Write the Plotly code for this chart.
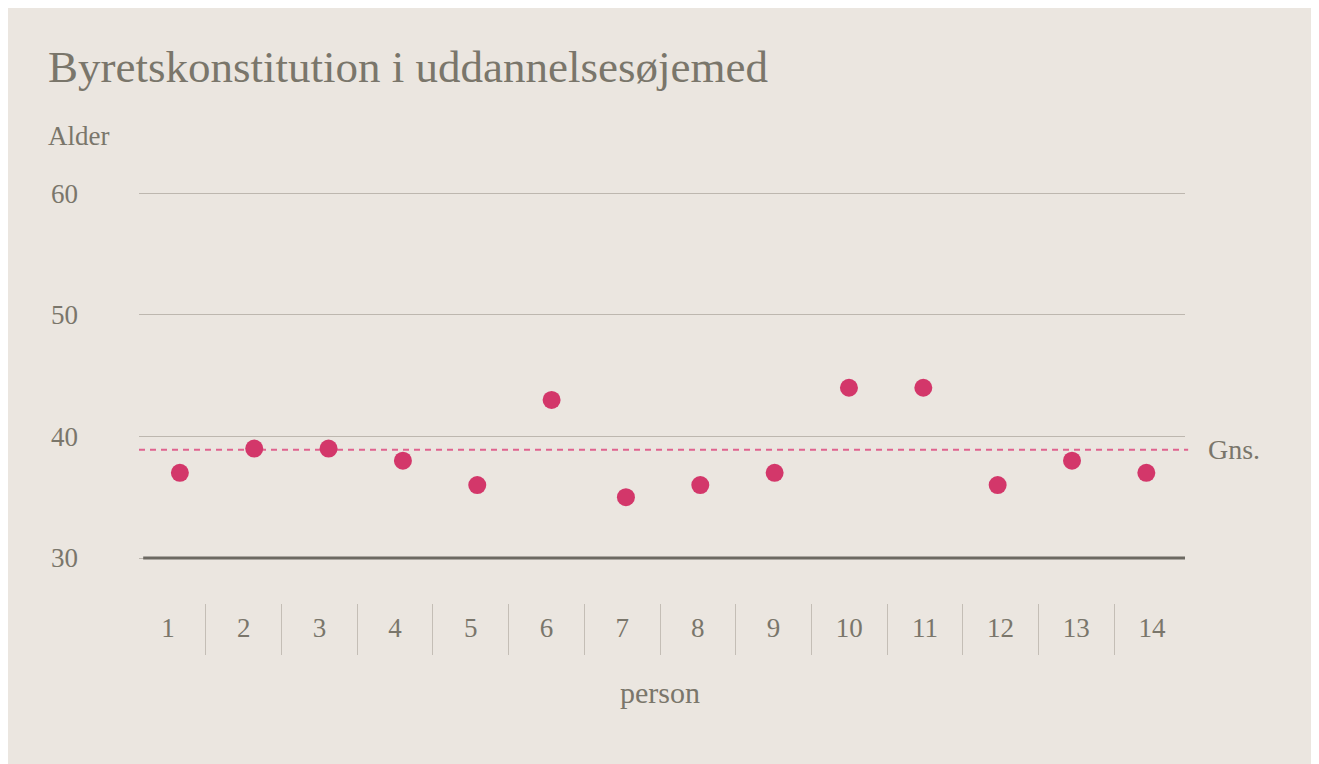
import plotly.graph_objects as go

persons = [str(i) for i in range(1, 15)]
ages = [37, 39, 39, 38, 36, 43, 35, 36, 37, 44, 44, 36, 38, 37]
mean_age = 38.9
y_ticks = [30, 40, 50, 60]

title_text = "Byretskonstitution i uddannelsesøjemed"
y_title = "Alder"
x_title = "person"
mean_label = "Gns."

BG = "#ebe6e0"
TXT = "#7a766b"
FONT = "Georgia, 'Liberation Serif', serif"
W, H = 1311, 756
L, R, T, B = 123, 130, 173, 161
PW = W - L - R
PH = H - T - B

fig = go.Figure()
# category label axis (separators between persons)
fig.add_trace(go.Scatter(
    x=persons, y=[None] * len(persons), mode="markers",
    xaxis="x2", yaxis="y2", showlegend=False, hoverinfo="skip",
))
fig.add_trace(go.Scatter(
    x=persons, y=ages, mode="markers",
    marker=dict(size=18, color="#d3376a"),
    xaxis="x", yaxis="y", hoverinfo="x+y", showlegend=False,
))

dom0 = (131 - L) / PW
dom1 = (1177 - L) / PW

fig.update_layout(
    width=W, height=H,
    margin=dict(l=L, r=R, t=T, b=B, pad=0),
    paper_bgcolor=BG, plot_bgcolor="rgba(0,0,0,0)",
    font=dict(family=FONT, color=TXT, size=27),
    xaxis=dict(
        type="category", domain=[dom0, dom1], range=[-0.55, 13.52],
        showgrid=False, showticklabels=False, ticks="", zeroline=False,
        showline=False, anchor="y",
    ),
    yaxis=dict(
        range=[26.3, 61.0], tickvals=y_ticks, showgrid=True,
        gridcolor="#bdb7af", gridwidth=1, zeroline=False, showline=False,
        ticks="", ticklabelstandoff=60, tickfont=dict(size=27, color=TXT),
        anchor="x",
    ),
    xaxis2=dict(
        type="category", domain=[0, 1], range=[-0.49, 13.49],
        showgrid=False, zeroline=False, showline=False,
        ticks="outside", tickson="boundaries", ticklen=51, tickwidth=1,
        tickcolor="#c4beb6", ticklabelstandoff=6,
        tickfont=dict(size=27, color=TXT), anchor="y2",
    ),
    yaxis2=dict(
        domain=[0, 1], range=[0, 1], visible=False, anchor="x2",
        showgrid=False, zeroline=False,
    ),
    shapes=[
        dict(type="line", xref="x domain", yref="y", x0=0.004, x1=1,
             y0=30, y1=30, line=dict(color="#6c6962", width=2.8), layer="above"),
        dict(type="line", xref="x domain", yref="y", x0=0, x1=1.003,
             y0=mean_age, y1=mean_age,
             line=dict(color="#e0638e", width=1.8, dash="6px,5px"), layer="below"),
    ],
    annotations=[
        dict(text=title_text, xref="paper", yref="paper",
             x=(38 - L) / PW, y=(T + PH - 59) / PH, xanchor="left", yanchor="middle",
             showarrow=False, font=dict(size=45, color=TXT, family=FONT)),
        dict(text=y_title, xref="paper", yref="paper",
             x=(38 - L) / PW, y=(595 - 128) / PH, xanchor="left", yanchor="middle",
             showarrow=False, font=dict(size=27, color=TXT, family=FONT)),
        dict(text=x_title, xref="paper", yref="paper",
             x=(652 - L) / PW, y=(595 - 684) / PH, xanchor="center", yanchor="middle",
             showarrow=False, font=dict(size=30, color=TXT, family=FONT)),
        dict(text=mean_label, xref="paper", yref="y",
             x=(1198 - L) / PW, y=mean_age, xanchor="left", yanchor="middle",
             showarrow=False, font=dict(size=28, color=TXT, family=FONT)),
    ],
)

fig.write_html("out.html")
